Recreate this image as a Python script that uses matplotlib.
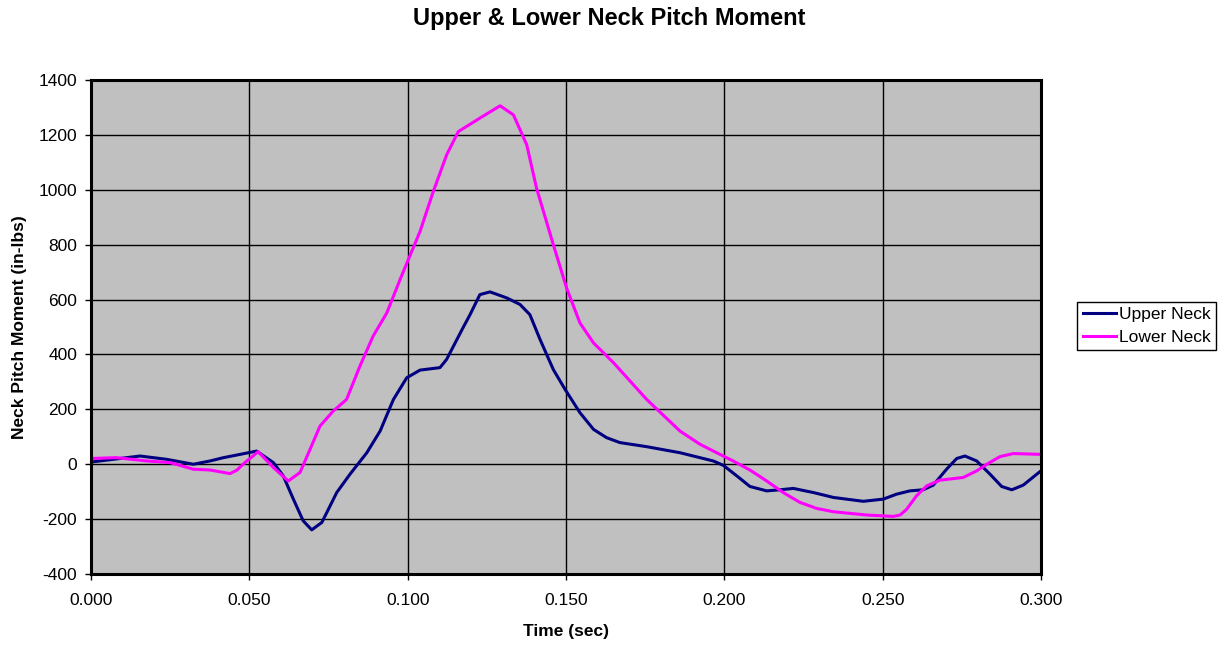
import matplotlib
matplotlib.use("Agg")
import matplotlib.pyplot as plt
import numpy as np

plt.rcParams['font.family'] = ['Liberation Sans', 'DejaVu Sans']
plt.rcParams['axes.unicode_minus'] = False

# data (time in sec, moment in in-lbs)
upper_t = [0.0000, 0.0070, 0.0155, 0.0239, 0.0323, 0.0376, 0.0418, 0.0471, 0.0523,
           0.0576, 0.0607, 0.0639, 0.0670, 0.0697, 0.0729, 0.0776, 0.0818, 0.0871,
           0.0913, 0.0955, 0.0997, 0.1039, 0.1102, 0.1123, 0.1176, 0.1197, 0.1228,
           0.1260, 0.1313, 0.1355, 0.1386, 0.1418, 0.1460, 0.1497, 0.1544, 0.1587,
           0.1628, 0.1670, 0.1755, 0.1860, 0.1923, 0.1965, 0.1997, 0.2039, 0.2081,
           0.2134, 0.2176, 0.2218, 0.2281, 0.2345, 0.2439, 0.2502, 0.2544, 0.2586,
           0.2628, 0.2660, 0.2702, 0.2734, 0.2760, 0.2797, 0.2839, 0.2876, 0.2908,
           0.2944, 0.3000]
upper_v = [8, 18, 30, 18, 0, 12, 24, 36, 48,
           6, -42, -127, -206, -239, -212, -103, -36, 42,
           121, 236, 315, 343, 352, 382, 500, 545, 618,
           628, 606, 582, 545, 455, 345, 273, 188, 127,
           97, 79, 64, 42, 24, 12, -4, -42, -81,
           -97, -93, -88, -103, -121, -135, -127, -109, -97,
           -93, -76, -18, 21, 30, 12, -36, -81, -93,
           -76, -24]

lower_t = [0.0000, 0.0080, 0.0176, 0.0250, 0.0281, 0.0323, 0.0376, 0.0439, 0.0460,
           0.0485, 0.0528, 0.0576, 0.0623, 0.0660, 0.0692, 0.0723, 0.0765, 0.0807,
           0.0849, 0.0891, 0.0934, 0.0976, 0.1039, 0.1081, 0.1123, 0.1160, 0.1228,
           0.1292, 0.1334, 0.1376, 0.1407, 0.1460, 0.1502, 0.1544, 0.1587, 0.1650,
           0.1755, 0.1860, 0.1923, 0.1976, 0.2028, 0.2081, 0.2134, 0.2186, 0.2239,
           0.2292, 0.2345, 0.2450, 0.2534, 0.2555, 0.2576, 0.2607, 0.2639, 0.2681,
           0.2755, 0.2797, 0.2829, 0.2871, 0.2913, 0.3000]
lower_v = [21, 24, 12, 6, -4, -18, -21, -34, -22,
           5, 46, -12, -61, -30, 55, 139, 194, 236,
           357, 467, 551, 673, 848, 994, 1127, 1212, 1261,
           1306, 1273, 1164, 1006, 800, 642, 515, 442, 370,
           236, 121, 73, 42, 12, -21, -61, -103, -139,
           -161, -173, -185, -190, -185, -164, -115, -79, -58,
           -48, -24, 0, 28, 39, 36]

fig = plt.figure(figsize=(12.3, 6.45), dpi=100)
ax = fig.add_axes([0.074, 0.110, 0.7723, 0.766])
ax.set_facecolor('#C0C0C0')

ax.plot(upper_t, upper_v, color='#000080', lw=2.2, label='Upper Neck', solid_joinstyle='round')
ax.plot(lower_t, lower_v, color='#FF00FF', lw=2.2, label='Lower Neck', solid_joinstyle='round')

ax.set_xlim(0, 0.3)
ax.set_ylim(-400, 1400)
xt = np.arange(0, 0.301, 0.05)
ax.set_xticks(xt)
ax.set_xticklabels([f"{t:.3f}" for t in xt])
ax.set_yticks(np.arange(-400, 1401, 200))
ax.grid(color='black', lw=1)
ax.set_axisbelow(True)
for s in ax.spines.values():
    s.set_linewidth(2.2)
    s.set_color('black')
ax.tick_params(labelsize=12.5, direction='out', length=4, width=1)
ax.tick_params(axis='x', pad=10)
ax.tick_params(axis='y', pad=6)

ax.set_xlabel('Time (sec)', fontsize=12.5, fontweight='bold', labelpad=11)
ax.set_ylabel('Neck Pitch Moment (in-lbs)', fontsize=12.5, fontweight='bold', labelpad=8)
fig.text(0.495, 0.971, 'Upper & Lower Neck Pitch Moment', fontsize=17, fontweight='bold',
         ha='center', va='center')

fig.legend(loc='upper left', bbox_to_anchor=(0.876, 0.532), fontsize=12.5,
           fancybox=False, framealpha=1, edgecolor='black', handlelength=1.9,
           borderpad=0.3, labelspacing=0.45, handletextpad=0.2, borderaxespad=0)

fig.savefig('out.png', dpi=100)
